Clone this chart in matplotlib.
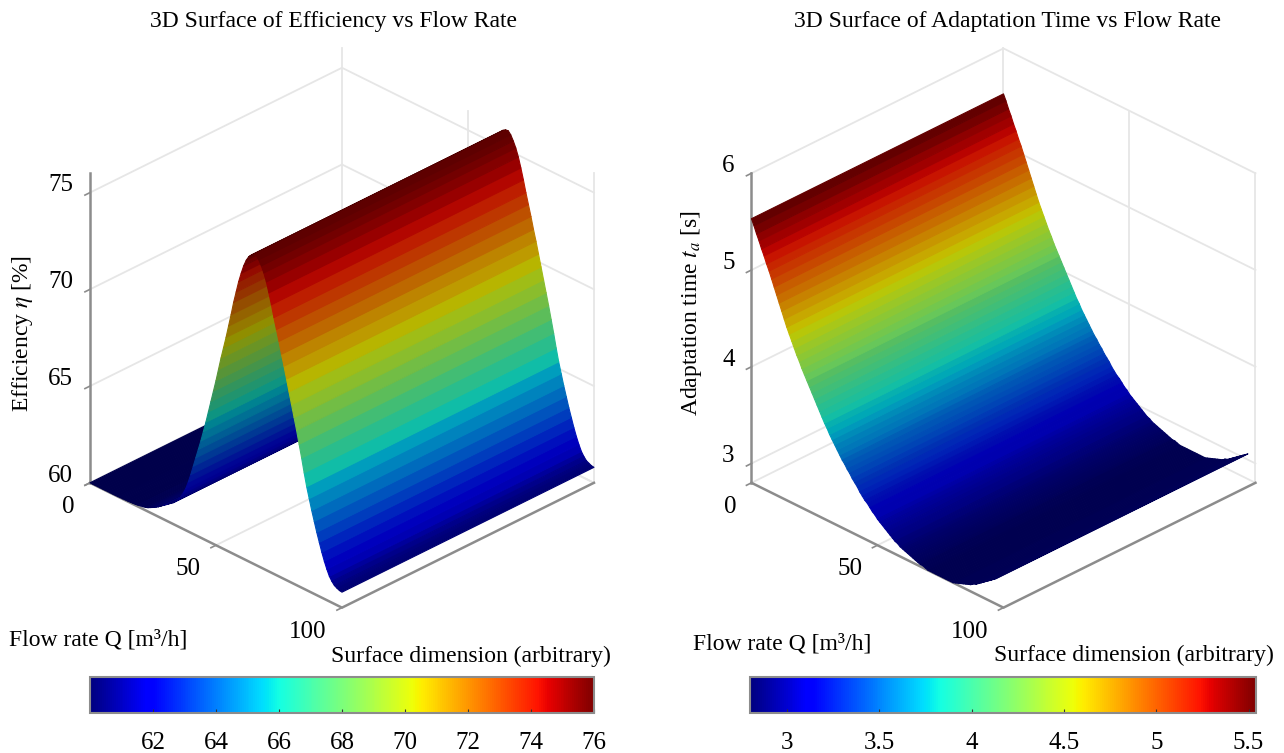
#!/usr/bin/env python3
"""
Superficies 3D de eficiencia y tiempo de adaptacion frente al caudal
"""

import numpy as np
import matplotlib
matplotlib.use('Agg')
import matplotlib.pyplot as plt
from matplotlib.cm import ScalarMappable
from matplotlib.colors import Normalize

plt.rcParams['font.family'] = ['Liberation Serif', 'DejaVu Serif']
plt.rcParams['mathtext.fontset'] = 'stix'

# Datos
flow_rate = list(range(0, 101))
flow_rate_time = list(range(0, 98))
surface_dim = [0, 1]

efficiency = [
    60.00, 60.00, 60.00, 60.00, 60.00, 60.00, 60.00, 60.00, 60.00, 60.00,
    60.00, 60.00, 60.01, 60.01, 60.02, 60.02, 60.03, 60.04, 60.05, 60.07,
    60.10, 60.12, 60.15, 60.20, 60.27, 60.34, 60.42, 60.50, 60.60, 60.70,
    60.80, 60.90, 61.00, 61.10, 61.25, 61.40, 61.60, 61.85, 62.15, 62.55,
    63.00, 63.50, 64.00, 64.50, 65.00, 65.55, 66.10, 66.70, 67.30, 67.90,
    68.50, 69.15, 69.80, 70.40, 71.00, 71.65, 72.30, 73.00, 73.60, 74.20,
    74.70, 75.15, 75.50, 75.75, 75.90, 75.98, 76.00, 75.85, 75.60, 75.30,
    74.90, 74.40, 73.85, 73.25, 72.70, 72.15, 71.55, 71.00, 70.40, 69.80,
    69.20, 68.60, 68.00, 67.35, 66.70, 66.00, 65.35, 64.80, 64.25, 63.75,
    63.25, 62.80, 62.35, 61.95, 61.60, 61.30, 61.10, 60.95, 60.88, 60.82,
    60.80,
]

adaptation_time = [
    5.53, 5.47, 5.40, 5.34, 5.27, 5.21, 5.14, 5.08, 5.01, 4.94,
    4.87, 4.80, 4.73, 4.66, 4.59, 4.53, 4.47, 4.41, 4.35, 4.30,
    4.24, 4.19, 4.14, 4.09, 4.04, 3.99, 3.94, 3.89, 3.84, 3.79,
    3.75, 3.70, 3.66, 3.62, 3.58, 3.54, 3.50, 3.47, 3.43, 3.40,
    3.36, 3.33, 3.30, 3.26, 3.23, 3.20, 3.18, 3.15, 3.12, 3.10,
    3.07, 3.05, 3.03, 3.01, 2.99, 2.97, 2.95, 2.93, 2.92, 2.90,
    2.89, 2.88, 2.87, 2.86, 2.85, 2.84, 2.83, 2.82, 2.82, 2.81,
    2.80, 2.80, 2.80, 2.80, 2.80, 2.80, 2.80, 2.80, 2.80, 2.80,
    2.80, 2.81, 2.82, 2.83, 2.84, 2.85, 2.86, 2.87, 2.89, 2.90,
    2.92, 2.94, 2.96, 2.98, 3.00, 3.02, 3.04, 3.06,
]

q_ticks = [0, 50, 100]
eff_ticks = [60, 65, 70, 75]
eff_cbar_ticks = [62, 64, 66, 68, 70, 72, 74, 76]
time_ticks = [3, 4, 5, 6]
time_cbar_ticks = [3, 3.5, 4, 4.5, 5, 5.5]

FIG_W, FIG_H = 1284, 753
GRID = '#e6e6e6'
AXIS = '#8c8c8c'
FS = 18
FS_LABEL = 17


def px_box(left, top, right, bottom):
    # rectangulo en pixeles (origen arriba) a fraccion de figura
    return [left / FIG_W, 1 - bottom / FIG_H, (right - left) / FIG_W, (bottom - top) / FIG_H]


def draw_surface(ax, q, values, zlim, z_ticks, rising_light, falling_light, dark_tail=False):
    zmin, zmax = zlim
    span = zmax - zmin
    ax.set_proj_type('ortho')
    ax.view_init(elev=29.7, azim=-45)
    ax.set_box_aspect((1, 1, 1), zoom=1.07)
    ax.set_xlim(0, 100)
    ax.set_ylim(0, 1)
    ax.set_zlim(zmin, zmax)
    ax.set_axis_off()
    ax.computed_zorder = False
    # sin textos vacios de los ejes 3D
    ax.set_xticks([])
    ax.set_yticks([])
    ax.set_zticks([])
    for axis in (ax.xaxis, ax.yaxis, ax.zaxis):
        axis.label.set_visible(False)
        axis.offsetText.set_visible(False)

    # Rejilla de las paredes del fondo
    grid_style = dict(color=GRID, lw=1.3, zorder=1, clip_on=False)
    for z in z_ticks:
        ax.plot([0, 0, 100], [0, 1, 1], [z, z, z], **grid_style)
    ax.plot([0, 0, 100], [0, 1, 1], [zmin, zmin, zmin], **grid_style)
    ax.plot([0, 0], [1, 1], [zmin, zmax], **grid_style)
    ax.plot([100, 100], [1, 1], [zmin, zmax], **grid_style)
    ax.plot([50, 50], [1, 1], [zmin, zmax], **grid_style)
    ax.plot([50, 50], [0, 1], [zmin, zmin], **grid_style)

    # Ejes oscuros
    ax.plot([0, 100, 100], [0, 0, 1], [zmin, zmin, zmin], color=AXIS, lw=1.8, zorder=1.5, clip_on=False)
    ax.plot([0, 0], [0, 0], [zmin, zmax], color=AXIS, lw=1.8, zorder=1.5, clip_on=False)
    for z in z_ticks:
        ax.plot([0, 0], [-0.02, 0], [z, z], color=AXIS, lw=1.2, zorder=1.5, clip_on=False)
        ax.text(0, -0.067, z + 0.05 * span, str(z), fontsize=FS, ha='right', va='center', zorder=5)
    for tick in q_ticks:
        ax.plot([tick, tick], [-0.02, 0], [zmin, zmin], color=AXIS, lw=1.2, zorder=1.5, clip_on=False)
        ax.text(tick, -0.06, zmin - 0.053 * span, str(tick), fontsize=FS, ha='right', va='center', zorder=5)

    # Superficie: color jet segun el valor, mas oscuro por la iluminacion
    vals = np.asarray(values)
    X, Y = np.meshgrid(q, surface_dim, indexing='ij')
    Z = np.column_stack([vals, vals])
    shown = vals.copy()
    if dark_tail:
        # el tramo final sigue azul oscuro en la figura aunque suba el valor
        shown[np.argmin(vals):] = vals.min()
    norm = Normalize(vals.min(), vals.max())
    colors = plt.get_cmap('jet')(norm(np.column_stack([shown, shown])))
    slope = np.gradient(vals)
    light = np.where(slope > 0.1, rising_light, falling_light)
    # las zonas llanas de abajo quedan mas oscuras
    flat = 0.8 + 0.2 * np.clip(np.abs(slope) / (0.02 * span), 0, 1)
    light = np.where(norm(vals) < 0.5, light * flat, light)
    colors[:, :, :3] *= light[:, None, None]
    ax.plot_surface(X, Y, Z, facecolors=colors, rstride=1, cstride=1,
                    shade=False, linewidth=0.8, antialiased=True, zorder=2)


def draw_colorbar(fig, rect, vmin, vmax, ticks):
    cax = fig.add_axes(rect)
    mappable = ScalarMappable(norm=Normalize(vmin, vmax), cmap='jet')
    cbar = fig.colorbar(mappable, cax=cax, orientation='horizontal', ticks=ticks, format='%g')
    cbar.outline.set_edgecolor(AXIS)
    cbar.outline.set_linewidth(1.5)
    cax.tick_params(axis='x', direction='in', length=3, width=0.8, color='#333333',
                    labelsize=FS, pad=14)
    return cbar


fig = plt.figure(figsize=(FIG_W / 100, FIG_H / 100), dpi=100)

# Panel izquierdo: eficiencia (cuadrado de 560 px centrado en la caja)
ax_eff = fig.add_axes(px_box(54.4, 55.6, 614.4, 615.6), projection='3d')
draw_surface(ax_eff, flow_rate, efficiency, (60, 76), eff_ticks, 0.58, 0.74)

# Panel derecho: tiempo de adaptacion
ax_time = fig.add_axes(px_box(715.9, 55.6, 1275.9, 615.6), projection='3d')
draw_surface(ax_time, flow_rate_time, adaptation_time, (2.8, 6), time_ticks, 0.78, 0.78, dark_tail=True)

# Barras de color
draw_colorbar(fig, px_box(90, 677, 594, 713), 60, 76, eff_cbar_ticks)
draw_colorbar(fig, px_box(750, 677, 1256, 713), 2.8, 5.54, time_cbar_ticks)

# Titulos y etiquetas
fig.text(334 / FIG_W, 1 - 21 / FIG_H, '3D Surface of Efficiency vs Flow Rate',
         fontsize=FS_LABEL, ha='center', va='center')
fig.text(1007 / FIG_W, 1 - 21 / FIG_H, '3D Surface of Adaptation Time vs Flow Rate',
         fontsize=FS_LABEL, ha='center', va='center')
fig.text(22.5 / FIG_W, 1 - 333 / FIG_H, r'Efficiency $\eta$ [%]',
         fontsize=FS_LABEL, rotation=90, ha='center', va='center')
fig.text(691 / FIG_W, 1 - 313 / FIG_H, r'Adaptation time $t_a$ [s]',
         fontsize=FS_LABEL, rotation=90, ha='center', va='center')
fig.text(9 / FIG_W, 1 - 640 / FIG_H, 'Flow rate Q [m³/h]', fontsize=FS_LABEL, ha='left', va='center')
fig.text(693 / FIG_W, 1 - 644 / FIG_H, 'Flow rate Q [m³/h]', fontsize=FS_LABEL, ha='left', va='center')
fig.text(331 / FIG_W, 1 - 656 / FIG_H, 'Surface dimension (arbitrary)', fontsize=FS_LABEL, ha='left', va='center')
fig.text(994 / FIG_W, 1 - 655 / FIG_H, 'Surface dimension (arbitrary)', fontsize=FS_LABEL, ha='left', va='center')

fig.savefig('out.png', dpi=100)
plt.close(fig)
